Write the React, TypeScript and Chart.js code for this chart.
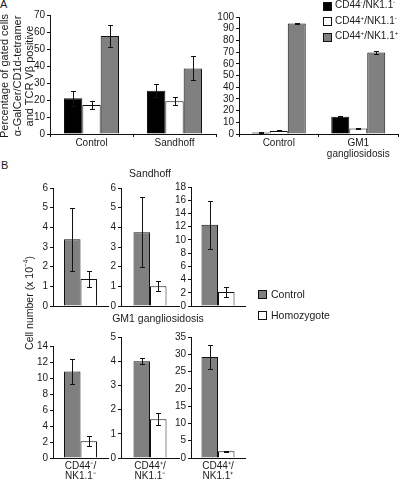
import React, { useEffect, useRef } from 'react';
import { Chart, registerables } from 'chart.js';

Chart.register(...registerables);

// ---------- Data ----------
// Panel A
const aLeftCategories: (string | string[])[] = ['Control', 'Sandhoff'];
const aRightCategories: (string | string[])[] = ['Control', ['GM1', 'gangliosidosis']];
const aSeriesNames = ['CD44⁻/NK1.1⁻', 'CD44⁺/NK1.1⁻', 'CD44⁺/NK1.1⁺'];

const aLeftNegNeg = [21.0, 25.5];
const aLeftNegNegErr = [4.4, 3.9];
const aLeftPosNeg = [17.0, 19.2];
const aLeftPosNegErr = [2.3, 2.3];
const aLeftPosPos = [57.6, 38.6];
const aLeftPosPosErr = [6.4, 7.0];

const aRightNegNeg = [1.2, 14.8];
const aRightNegNegErr = [0.4, 0.6];
const aRightPosNeg = [2.6, 4.8];
const aRightPosNegErr = [0.4, 0.5];
const aRightPosPos = [94.5, 69.6];
const aRightPosPosErr = [0.5, 1.5];

const aLeftMax = 70;
const aRightMax = 100;
const aStep = 10;

// Panel B
const bCategories: string[][] = [
  ['CD44⁻/', 'NK1.1⁻'],
  ['CD44⁺/', 'NK1.1⁻'],
  ['CD44⁺/', 'NK1.1⁺'],
];
const bSeriesNames = ['Control', 'Homozygote'];

const bSandhoffControl = [3.4, 3.75, 12.3];
const bSandhoffControlErr = [1.6, 1.78, 3.65];
const bSandhoffHomozygote = [1.37, 1.0, 2.1];
const bSandhoffHomozygoteErr = [0.4, 0.25, 0.7];
const bSandhoffMax = [6, 6, 18];
const bSandhoffStep = [1, 1, 2];

const bGM1Control = [10.8, 4.0, 29.2];
const bGM1ControlErr = [1.6, 0.13, 3.5];
const bGM1Homozygote = [2.1, 1.6, 1.93];
const bGM1HomozygoteErr = [0.65, 0.25, 0.2];
const bGM1Max = [14, 5, 35];
const bGM1Step = [2, 1, 5];

// ---------- Styles ----------
const FONT = '"Liberation Sans", Arial, Helvetica, sans-serif';
const BLACK = '#000000';
const WHITE = '#ffffff';
const GRAY = '#808080';
const TEXT = '#1a1a1a';

const errorBarPlugin = {
  id: 'errorBars',
  afterDatasetsDraw(chart: any) {
    const ctx = chart.ctx;
    const yScale = chart.scales.y;
    chart.data.datasets.forEach((ds: any, i: number) => {
      const meta = chart.getDatasetMeta(i);
      const errs: number[] = ds.errors || [];
      meta.data.forEach((bar: any, j: number) => {
        const v = ds.data[j];
        const e = errs[j] ?? 0;
        const x = Math.round(bar.x) + 0.5;
        const yHi = Math.round(yScale.getPixelForValue(v + e)) + 0.5;
        const yLo = Math.round(yScale.getPixelForValue(Math.max(0, v - e))) + 0.5;
        ctx.save();
        ctx.strokeStyle = '#111';
        ctx.lineWidth = 1;
        ctx.beginPath();
        ctx.moveTo(x, yHi);
        ctx.lineTo(x, yLo);
        ctx.moveTo(x - 2.5, yHi);
        ctx.lineTo(x + 2.5, yHi);
        ctx.moveTo(x - 2.5, yLo);
        ctx.lineTo(x + 2.5, yLo);
        ctx.stroke();
        ctx.restore();
      });
    });
  },
};

type Series = { label: string; data: number[]; errors: number[]; color: string };

type PanelProps = {
  axisX: number;
  right: number;
  top: number;
  bottom: number;
  max: number;
  step: number;
  labels: (string | string[])[];
  series: Series[];
  groupWidth: number;
  xTicks: boolean;
  xAxisH: number;
};

const Y_AXIS_W = 30;
const PAD_TOP = 8;
const PAD_RIGHT = 1;

function BarPanel(p: PanelProps) {
  const ref = useRef<HTMLCanvasElement>(null);
  const left = p.axisX - Y_AXIS_W;
  const width = p.right - p.axisX + Y_AXIS_W + PAD_RIGHT;
  const ctop = p.top - PAD_TOP;
  const height = p.bottom - p.top + PAD_TOP + p.xAxisH;

  useEffect(() => {
    const catWidth = (p.right - p.axisX) / p.labels.length;
    const catPct = Math.min(1, p.groupWidth / catWidth);
    const chart = new Chart(ref.current as HTMLCanvasElement, {
      type: 'bar',
      data: {
        labels: p.labels as any,
        datasets: p.series.map((s) => ({
          label: s.label,
          data: s.data,
          errors: s.errors,
          backgroundColor: s.color,
          borderColor: '#111',
          borderWidth: 1,
          categoryPercentage: catPct,
          barPercentage: 1.0,
        })) as any,
      },
      options: {
        responsive: false,
        animation: false,
        devicePixelRatio: 1,
        layout: { padding: { top: PAD_TOP, right: PAD_RIGHT, left: 0, bottom: 0 } },
        plugins: { legend: { display: false }, tooltip: { enabled: false } },
        scales: {
          x: {
            type: 'category',
            offset: true,
            grid: {
              display: p.xTicks,
              drawOnChartArea: false,
              drawTicks: p.xTicks,
              tickLength: p.xTicks ? 3 : 0,
              color: '#111',
              offset: true,
            },
            border: { display: true, color: '#111', width: 1 },
            ticks: {
              font: { family: FONT, size: 10, lineHeight: p.xTicks ? 1.15 : 1.0 },
              color: TEXT,
              padding: p.xTicks ? 0 : 3,
              maxRotation: 0,
              autoSkip: false,
            },
            afterFit: (s: any) => {
              s.height = p.xAxisH;
            },
          },
          y: {
            min: 0,
            max: p.max,
            ticks: {
              stepSize: p.step,
              autoSkip: false,
              font: { family: FONT, size: 10 },
              color: TEXT,
              padding: 2,
            },
            grid: {
              drawOnChartArea: false,
              drawTicks: true,
              tickLength: 3,
              color: '#111',
            },
            border: { display: true, color: '#111', width: 1 },
            afterFit: (s: any) => {
              s.width = Y_AXIS_W;
            },
          },
        },
      } as any,
      plugins: [errorBarPlugin],
    });
    return () => chart.destroy();
  }, []);

  return (
    <canvas
      ref={ref}
      width={width}
      height={height}
      style={{ position: 'absolute', left, top: ctop, width, height }}
    />
  );
}

const textBase: React.CSSProperties = {
  position: 'absolute',
  fontFamily: FONT,
  color: TEXT,
  whiteSpace: 'nowrap',
  lineHeight: 1,
};

const supStyle: React.CSSProperties = { fontSize: '0.62em', verticalAlign: 'super', lineHeight: 0 };

function LegendA({ y, color, a, b }: { y: number; color: string; a: string; b: string }) {
  return (
    <>
      <div
        style={{
          position: 'absolute',
          left: 323,
          top: y - 4,
          width: 7,
          height: 7,
          background: color,
          border: '1px solid #111',
        }}
      />
      <div style={{ ...textBase, left: 335, top: y - 5.5, fontSize: 10 }}>
        CD44<span style={supStyle}>{a}</span>/NK1.1<span style={supStyle}>{b}</span>
      </div>
    </>
  );
}

function LegendB({ y, color, text }: { y: number; color: string; text: string }) {
  return (
    <>
      <div
        style={{
          position: 'absolute',
          left: 258,
          top: y - 4,
          width: 7,
          height: 7,
          background: color,
          border: '1px solid #111',
        }}
      />
      <div style={{ ...textBase, left: 271, top: y - 5.5, fontSize: 10.5 }}>{text}</div>
    </>
  );
}

export default function App() {
  useEffect(() => {
    document.body.style.margin = '0';
  }, []);

  const aLeftSeries: Series[] = [
    { label: aSeriesNames[0], data: aLeftNegNeg, errors: aLeftNegNegErr, color: BLACK },
    { label: aSeriesNames[1], data: aLeftPosNeg, errors: aLeftPosNegErr, color: WHITE },
    { label: aSeriesNames[2], data: aLeftPosPos, errors: aLeftPosPosErr, color: GRAY },
  ];
  const aRightSeries: Series[] = [
    { label: aSeriesNames[0], data: aRightNegNeg, errors: aRightNegNegErr, color: BLACK },
    { label: aSeriesNames[1], data: aRightPosNeg, errors: aRightPosNegErr, color: WHITE },
    { label: aSeriesNames[2], data: aRightPosPos, errors: aRightPosPosErr, color: GRAY },
  ];

  const bAxisX = [53, 121, 191];
  const bRight = [108, 179, 245];
  const bRow1Top = [188, 188, 187];
  const bRow2Top = [346, 337, 337];

  return (
    <div
      style={{
        position: 'absolute',
        left: 0,
        top: 0,
        width: 400,
        height: 480,
        overflow: 'hidden',
        background: '#fff',
      }}
    >
      <BarPanel
        axisX={50}
        right={216}
        top={15}
        bottom={134}
        max={aLeftMax}
        step={aStep}
        labels={aLeftCategories}
        series={aLeftSeries}
        groupWidth={55}
        xTicks={true}
        xAxisH={30}
      />
      <BarPanel
        axisX={239}
        right={398}
        top={17}
        bottom={134}
        max={aRightMax}
        step={aStep}
        labels={aRightCategories}
        series={aRightSeries}
        groupWidth={54}
        xTicks={true}
        xAxisH={30}
      />

      {[0, 1, 2].map((i) => (
        <BarPanel
          key={'s' + i}
          axisX={bAxisX[i]}
          right={bRight[i]}
          top={bRow1Top[i]}
          bottom={310}
          max={bSandhoffMax[i]}
          step={bSandhoffStep[i]}
          labels={['']}
          series={[
            { label: bSeriesNames[0], data: [bSandhoffControl[i]], errors: [bSandhoffControlErr[i]], color: GRAY },
            { label: bSeriesNames[1], data: [bSandhoffHomozygote[i]], errors: [bSandhoffHomozygoteErr[i]], color: WHITE },
          ]}
          groupWidth={33}
          xTicks={false}
          xAxisH={4}
        />
      ))}
      {[0, 1, 2].map((i) => (
        <BarPanel
          key={'g' + i}
          axisX={bAxisX[i]}
          right={bRight[i]}
          top={bRow2Top[i]}
          bottom={458}
          max={bGM1Max[i]}
          step={bGM1Step[i]}
          labels={[bCategories[i]]}
          series={[
            { label: bSeriesNames[0], data: [bGM1Control[i]], errors: [bGM1ControlErr[i]], color: GRAY },
            { label: bSeriesNames[1], data: [bGM1Homozygote[i]], errors: [bGM1HomozygoteErr[i]], color: WHITE },
          ]}
          groupWidth={33}
          xTicks={false}
          xAxisH={26}
        />
      ))}

      {/* Panel letters */}
      <div style={{ ...textBase, left: 0, top: -1, fontSize: 11 }}>A</div>
      <div style={{ ...textBase, left: 1, top: 160, fontSize: 11 }}>B</div>

      {/* Panel A y-axis title */}
      <div
        style={{
          ...textBase,
          left: 17,
          top: 76,
          fontSize: 11,
          lineHeight: '12.5px',
          textAlign: 'center',
          transform: 'translate(-50%, -50%) rotate(-90deg)',
        }}
      >
        Percentage of gated cells
        <br />
        α-GalCer/CD1d-tetramer
        <br />
        and TCR Vβ positive
      </div>

      {/* Panel A legend */}
      <LegendA y={5.5} color={BLACK} a="-" b="-" />
      <LegendA y={21} color={WHITE} a="+" b="-" />
      <LegendA y={36.5} color={GRAY} a="+" b="+" />

      {/* Panel B titles */}
      <div style={{ ...textBase, left: 150, top: 173, fontSize: 10.5, transform: 'translate(-50%, -50%)' }}>
        Sandhoff
      </div>
      <div style={{ ...textBase, left: 158, top: 317.5, fontSize: 10.5, transform: 'translate(-50%, -50%)' }}>
        GM1 gangliosidosis
      </div>

      {/* Panel B y-axis title */}
      <div
        style={{
          ...textBase,
          left: 29,
          top: 303,
          fontSize: 10.5,
          transform: 'translate(-50%, -50%) rotate(-90deg)',
        }}
      >
        Cell number (x 10<span style={supStyle}>−4</span>)
      </div>

      {/* Panel B legend */}
      <LegendB y={294} color={GRAY} text={bSeriesNames[0]} />
      <LegendB y={315} color={WHITE} text={bSeriesNames[1]} />
    </div>
  );
}
